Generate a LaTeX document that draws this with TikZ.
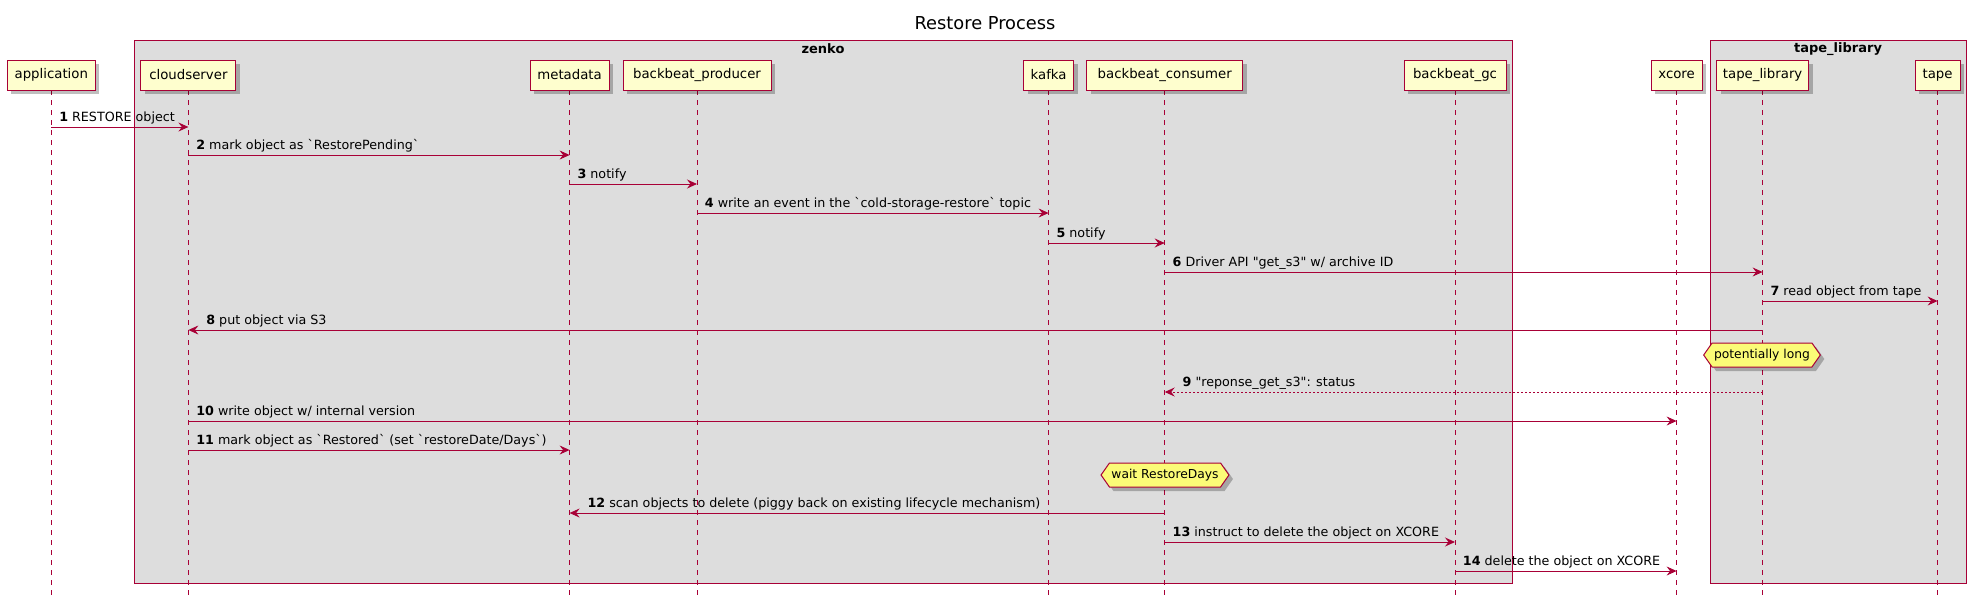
\documentclass[tikz,border=0pt]{standalone}
\usepackage{fontspec}
\newfontfamily\dvs{DejaVu Sans}
\usetikzlibrary{shapes.symbols,shadows,arrows.meta}
\definecolor{pu}{HTML}{A80036}
\definecolor{pbg}{HTML}{FEFECE}
\definecolor{gbg}{HTML}{DDDDDD}
\definecolor{nbg}{HTML}{FBFB77}
\begin{document}
\begin{tikzpicture}[x=1pt,y=-1pt,
  every node/.style={font=\dvs},
  part/.style={draw=pu, fill=pbg, line width=1pt, minimum height=30pt, inner sep=0pt,
    font=\dvs\fontsize{13.3}{16}\selectfont,
    drop shadow={shadow xshift=4pt, shadow yshift=-4pt, fill=black, opacity=0.25}},
  grp/.style={draw=pu, fill=gbg, line width=1pt},
  grplbl/.style={font=\dvs\bfseries\fontsize{13}{15}\selectfont, inner sep=0pt},
  life/.style={draw=pu, dash pattern=on 5pt off 5pt, line width=0.8pt},
  msg/.style={draw=pu, line width=0.9pt, -{Stealth[length=10pt,width=9pt,inset=3.5pt]}},
  reply/.style={msg, dash pattern=on 2pt off 2pt},
  lbl/.style={font=\dvs\fontsize{12.7}{15}\selectfont, inner sep=0pt, anchor=base west, yshift=5.5pt},
  hnote/.style={shape=signal, signal to=west and east, signal pointer angle=110, draw=pu, fill=nbg,
    line width=1pt, inner xsep=2pt, inner ysep=0pt, minimum height=24pt,
    font=\dvs\fontsize{12.3}{14}\selectfont,
    drop shadow={shadow xshift=4pt, shadow yshift=-4pt, fill=black, opacity=0.25}}
]
\useasboundingbox (0,0) rectangle (1971,595);
\coordinate (bottom) at (0,595);

% title
\node[font=\dvs\fontsize{17.8}{21}\selectfont] (title) at (985,22.7) {Restore Process};

% groups
\draw[grp] (134.8,40.3) rectangle (1512,583);
\node[grplbl] (zenkolbl) at (823,49) {zenko};
\draw[grp] (1710,40.3) rectangle (1966,583);
\node[grplbl] (tapelbl) at (1838,49) {tape\_library};

% lifelines coordinates
\coordinate (xapp) at (51.3,75);
\coordinate (xcs) at (188.4,75);
\coordinate (xmd) at (569.6,75);
\coordinate (xbp) at (697,75);
\coordinate (xkf) at (1048.6,75);
\coordinate (xbc) at (1164.7,75);
\coordinate (xgc) at (1455,75);
\coordinate (xxc) at (1676.6,75);
\coordinate (xtl) at (1762.6,75);
\coordinate (xtp) at (1937.6,75);

% lifelines
\foreach \p in {app,cs,md,bp,kf,bc,gc,xc,tl,tp}{
  \draw[life] (x\p) ++(0,15) -- (x\p |- bottom);
}

% participants
\node[part, minimum width=88pt] (app) at (xapp) {application};
\node[part, minimum width=95pt] (cs) at (xcs) {cloudserver};
\node[part, minimum width=79pt] (md) at (xmd) {metadata};
\node[part, minimum width=148pt] (bp) at (xbp) {backbeat\_producer};
\node[part, minimum width=50pt] (kf) at (xkf) {kafka};
\node[part, minimum width=156pt] (bc) at (xbc) {backbeat\_consumer};
\node[part, minimum width=102pt] (gc) at (xgc) {backbeat\_gc};
\node[part, minimum width=51pt] (xc) at (xxc) {xcore};
\node[part, minimum width=92pt] (tl) at (xtl) {tape\_library};
\node[part, minimum width=45pt] (tp) at (xtp) {tape};

% rows
\coordinate (r1) at (0,127);
\coordinate (r2) at (0,155);
\coordinate (r3) at (0,184);
\coordinate (r4) at (0,213);
\coordinate (r5) at (0,243);
\coordinate (r6) at (0,272);
\coordinate (r7) at (0,301);
\coordinate (r8) at (0,330);
\coordinate (r9) at (0,392);
\coordinate (r10) at (0,421);
\coordinate (r11) at (0,450);
\coordinate (r12) at (0,513);
\coordinate (r13) at (0,542);
\coordinate (r14) at (0,571);

% messages
\draw[msg] (app |- r1) -- node[lbl, pos=0, xshift=7.5pt] (m1) {\textbf{1} RESTORE object} (cs |- r1);
\draw[msg] (cs |- r2) -- node[lbl, pos=0, xshift=7.5pt] (m2) {\textbf{2} mark object as `RestorePending`} (md |- r2);
\draw[msg] (md |- r3) -- node[lbl, pos=0, xshift=7.5pt] (m3) {\textbf{3} notify} (bp |- r3);
\draw[msg] (bp |- r4) -- node[lbl, pos=0, xshift=7.5pt] (m4) {\textbf{4} write an event in the `cold-storage-restore` topic} (kf |- r4);
\draw[msg] (kf |- r5) -- node[lbl, pos=0, xshift=7.5pt] (m5) {\textbf{5} notify} (bc |- r5);
\draw[msg] (bc |- r6) -- node[lbl, pos=0, xshift=7.5pt] (m6) {\textbf{6} Driver API "get\_s3" w/ archive ID} (tl |- r6);
\draw[msg] (tl |- r7) -- node[lbl, pos=0, xshift=7.5pt] (m7) {\textbf{7} read object from tape} (tp |- r7);
\draw[msg] (tl |- r8) -- node[lbl, pos=1, xshift=17.5pt] (m8) {\textbf{8} put object via S3} (cs |- r8);
\draw[reply] (tl |- r9) -- node[lbl, pos=1, xshift=17.5pt] (m9) {\textbf{9} "reponse\_get\_s3": status} (bc |- r9);
\draw[msg] (cs |- r10) -- node[lbl, pos=0, xshift=7.5pt] (m10) {\textbf{10} write object w/ internal version} (xc |- r10);
\draw[msg] (cs |- r11) -- node[lbl, pos=0, xshift=7.5pt] (m11) {\textbf{11} mark object as `Restored` (set `restoreDate/Days`)} (md |- r11);
\draw[msg] (bc |- r12) -- node[lbl, pos=1, xshift=17.5pt] (m12) {\textbf{12} scan objects to delete (piggy back on existing lifecycle mechanism)} (md |- r12);
\draw[msg] (bc |- r13) -- node[lbl, pos=0, xshift=7.5pt] (m13) {\textbf{13} instruct to delete the object on XCORE} (gc |- r13);
\draw[msg] (gc |- r14) -- node[lbl, pos=0, xshift=7.5pt] (m14) {\textbf{14} delete the object on XCORE} (xc |- r14);

% notes
\node[hnote] (n1) at (1762,355) {potentially long};
\node[hnote] (n2) at (1165,475) {wait RestoreDays};
\end{tikzpicture}
\end{document}
